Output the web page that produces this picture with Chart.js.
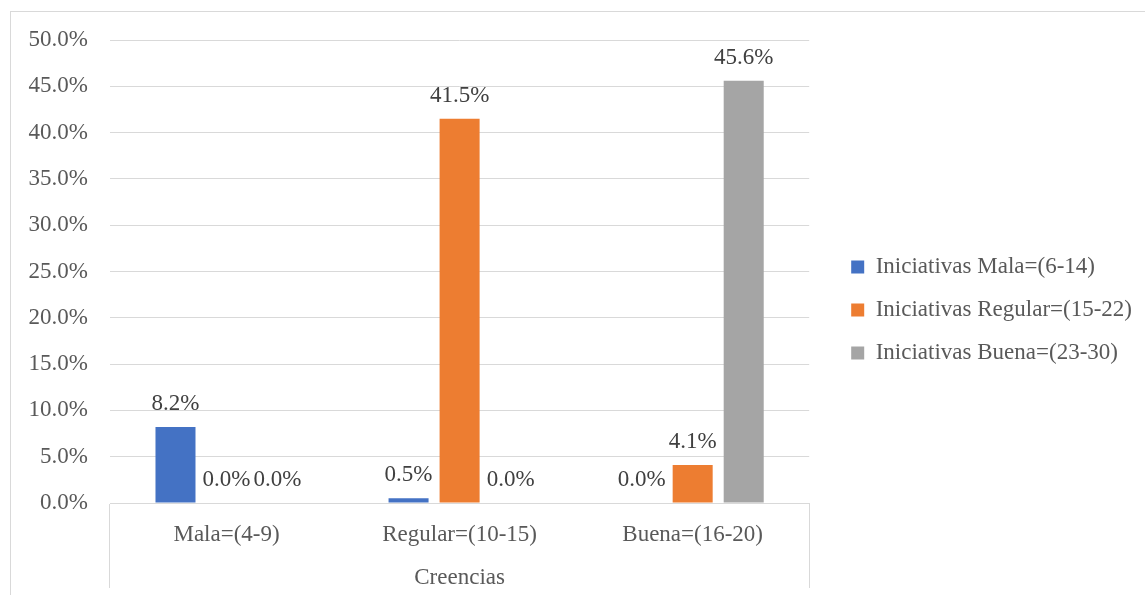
<!DOCTYPE html>
<html>
<head>
<meta charset="utf-8">
<script src="https://cdn.jsdelivr.net/npm/chart.js@4.4.1/dist/chart.umd.min.js"></script>
<style>
  html, body { margin: 0; padding: 0; background: #fff; overflow: hidden; }
  #wrap { position: relative; width: 1145px; height: 595px; }
  #frame { position: absolute; left: 10px; top: 11px; width: 1200px; height: 700px; border: 1px solid #d9d9d9; box-sizing: border-box; }
  canvas { position: absolute; left: 0; top: 0; }
</style>
</head>
<body>
<div id="wrap">
  <div id="frame"></div>
  <canvas id="c" width="1145" height="595"></canvas>
</div>
<script>
const categories = ['Mala=(4-9)', 'Regular=(10-15)', 'Buena=(16-20)'];
const seriesNames = ['Iniciativas Mala=(6-14)', 'Iniciativas Regular=(15-22)', 'Iniciativas Buena=(23-30)'];
const malaValues = [8.2, 0.5, 0.0];
const regularValues = [0.0, 41.5, 4.1];
const buenaValues = [0.0, 0.0, 45.6];
const seriesColors = ['#4472C4', '#ED7D31', '#A5A5A5'];
const xTitle = 'Creencias';

const FONT = "'Liberation Serif', 'Times New Roman', serif";
const FS = 23;
const TEXT = '#595959';
const GRID = '#d9d9d9';

const dataLabels = {
  id: 'dataLabels',
  afterDatasetsDraw(chart) {
    const ctx = chart.ctx;
    ctx.save();
    ctx.font = FS + 'px ' + FONT;
    ctx.fillStyle = '#404040';
    ctx.textAlign = 'center';
    ctx.textBaseline = 'middle';
    chart.data.datasets.forEach((ds, di) => {
      const meta = chart.getDatasetMeta(di);
      meta.data.forEach((el, i) => {
        ctx.fillText(ds.data[i].toFixed(1) + '%', el.x, el.y - 23);
      });
    });
    ctx.restore();
  }
};

const legendShift = {
  id: 'legendShift',
  afterLayout(chart) {
    const lg = chart.legend;
    if (lg) { lg.left += 22; lg.right += 22; }
  }
};

new Chart(document.getElementById('c'), {
  type: 'bar',
  data: {
    labels: categories,
    datasets: [
      { label: seriesNames[0], data: malaValues, backgroundColor: seriesColors[0] },
      { label: seriesNames[1], data: regularValues, backgroundColor: seriesColors[1] },
      { label: seriesNames[2], data: buenaValues, backgroundColor: seriesColors[2] }
    ]
  },
  options: {
    responsive: false,
    animation: false,
    devicePixelRatio: 1,
    layout: { padding: { top: 40, left: 10, right: 25, bottom: 15 } },
    datasets: { bar: { categoryPercentage: 0.657, barPercentage: 0.784 } },
    plugins: {
      legend: {
        position: 'right',
        align: 'center',
        maxWidth: 500,
        labels: {
          font: { family: FONT, size: FS },
          color: TEXT,
          boxWidth: 13,
          boxHeight: 13,
          padding: 20,
          useBorderRadius: false
        }
      },
      tooltip: { enabled: false }
    },
    scales: {
      x: {
        grid: {
          offset: true,
          drawOnChartArea: false,
          tickLength: 85,
          color: (c) => (c.type !== 'tick' || c.index === 0) ? GRID : 'rgba(0,0,0,0)'
        },
        border: { display: true, color: GRID },
        ticks: { font: { family: FONT, size: FS }, color: TEXT, padding: -67 },
        title: { display: true, text: xTitle, font: { family: FONT, size: FS }, color: TEXT, padding: { top: 0, bottom: -12 } },
        afterFit: (s) => { s.height = 77; }
      },
      y: {
        min: 0, max: 50,
        grid: { color: GRID, drawTicks: false },
        border: { display: false },
        ticks: { stepSize: 5, font: { family: FONT, size: FS }, color: TEXT, padding: 22,
                 callback: (v) => v.toFixed(1) + '%' },
        afterFit: (s) => { s.width = 100; }
      }
    }
  },
  plugins: [dataLabels, legendShift]
});
</script>
</body>
</html>
